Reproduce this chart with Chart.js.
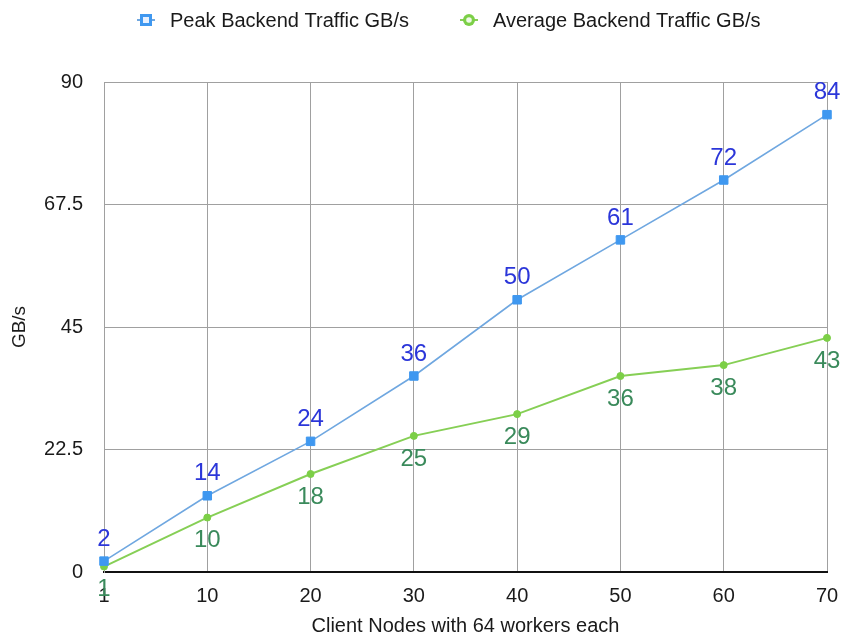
<!DOCTYPE html>
<html>
<head>
<meta charset="utf-8">
<script src="https://cdn.jsdelivr.net/npm/chart.js@4.4.1/dist/chart.umd.min.js"></script>
<style>
  html, body { margin: 0; padding: 0; background: #ffffff; }
  #wrap { width: 841px; height: 639px; position: relative; }
</style>
</head>
<body>
<div id="wrap"><canvas id="chart" width="841" height="639"></canvas></div>
<script>
// Client node counts (64 workers each)
const nodeCounts = ['1', '10', '20', '30', '40', '50', '60', '70'];
// Backend traffic in GB/s
const peakTraffic = [2, 14, 24, 36, 50, 61, 72, 84];
const averageTraffic = [1, 10, 18, 25, 29, 36, 38, 43];
// Value-axis ticks
const yTicks = [0, 22.5, 45, 67.5, 90];

const FONT = '"Liberation Sans", Arial, Helvetica, sans-serif';

const peakStyle = { line: '#6fa7e0', point: '#3f98f0', label: '#2b36d9' };
const avgStyle = { line: '#86cf55', point: '#7ccf47', label: '#3a8a5b' };

// Value labels next to each point: peak above, average below
const valueLabels = {
  id: 'valueLabels',
  afterDatasetsDraw(chart) {
    const ctx = chart.ctx;
    ctx.save();
    ctx.font = '24px ' + FONT;
    ctx.textAlign = 'center';
    ctx.textBaseline = 'middle';
    chart.data.datasets.forEach((ds, i) => {
      const meta = chart.getDatasetMeta(i);
      meta.data.forEach((pt, j) => {
        const above = ds.labelPos === 'above';
        ctx.fillStyle = ds.labelColor;
        ctx.fillText(String(ds.data[j]), pt.x, pt.y + (above ? -22 : 23));
      });
    });
    ctx.restore();
  }
};

// Legend row at the top: line with marker, then the series name
const topLegend = {
  id: 'topLegend',
  afterDraw(chart) {
    const ctx = chart.ctx;
    ctx.save();
    ctx.font = '20px ' + FONT;
    ctx.textBaseline = 'middle';
    ctx.textAlign = 'left';
    const y = 20;
    let x = 146;
    chart.data.datasets.forEach((ds) => {
      // line stub
      ctx.strokeStyle = ds.borderColor;
      ctx.lineWidth = 2;
      ctx.beginPath();
      ctx.moveTo(x - 9, y);
      ctx.lineTo(x + 9, y);
      ctx.stroke();
      // marker
      ctx.fillStyle = ds.pointBackgroundColor;
      if (ds.pointStyle === 'rect') {
        ctx.fillRect(x - 6, y - 6, 12, 12);
        ctx.fillStyle = '#e6f0ff';
        ctx.fillRect(x - 3, y - 3, 6, 6);
      } else {
        ctx.beginPath();
        ctx.arc(x, y, 6, 0, Math.PI * 2);
        ctx.fill();
        ctx.fillStyle = '#eef9e6';
        ctx.beginPath();
        ctx.arc(x, y, 2.8, 0, Math.PI * 2);
        ctx.fill();
      }
      ctx.fillStyle = '#1a1a1a';
      const tx = x + 24;
      ctx.fillText(ds.label, tx, y + 1);
      x = tx + ctx.measureText(ds.label).width + 60;
    });
    ctx.restore();
  }
};

new Chart(document.getElementById('chart'), {
  type: 'line',
  data: {
    labels: nodeCounts,
    datasets: [
      {
        label: 'Peak Backend Traffic GB/s',
        data: peakTraffic,
        borderColor: peakStyle.line,
        backgroundColor: peakStyle.point,
        pointBackgroundColor: peakStyle.point,
        pointBorderColor: peakStyle.point,
        pointBorderWidth: 1,
        pointStyle: 'rect',
        pointRadius: 6,
        borderWidth: 1.6,
        tension: 0,
        labelColor: peakStyle.label,
        labelPos: 'above'
      },
      {
        label: 'Average Backend Traffic GB/s',
        data: averageTraffic,
        borderColor: avgStyle.line,
        backgroundColor: avgStyle.point,
        pointBackgroundColor: avgStyle.point,
        pointBorderColor: avgStyle.point,
        pointBorderWidth: 1,
        pointStyle: 'circle',
        pointRadius: 3.5,
        borderWidth: 2,
        tension: 0,
        labelColor: avgStyle.label,
        labelPos: 'below'
      }
    ]
  },
  options: {
    responsive: false,
    animation: false,
    devicePixelRatio: 1,
    layout: { autoPadding: false, padding: { top: 82, right: 14, bottom: 1, left: 8 } },
    plugins: {
      legend: { display: false },
      tooltip: { enabled: false }
    },
    scales: {
      x: {
        type: 'category',
        offset: false,
        afterFit(scale) {
          scale.height = 66;
          scale.paddingLeft = 0;
          scale.paddingRight = 0;
        },
        grid: { color: '#a0a0a0', lineWidth: 1, drawTicks: false },
        border: { color: '#111111', width: 2 },
        ticks: { color: '#1a1a1a', font: { family: FONT, size: 20 }, padding: 12, maxRotation: 0 },
        title: { display: true, text: 'Client Nodes with 64 workers each', color: '#1a1a1a', font: { family: FONT, size: 20 }, padding: { top: 0, bottom: 0 } }
      },
      y: {
        min: 0,
        max: 90,
        afterBuildTicks(scale) { scale.ticks = yTicks.map(v => ({ value: v })); },
        afterFit(scale) { scale.width = 96; },
        grid: { color: '#a0a0a0', lineWidth: 1, drawTicks: false },
        border: { color: '#a0a0a0', width: 1 },
        ticks: { color: '#1a1a1a', font: { family: FONT, size: 20 }, padding: 21 },
        title: { display: true, text: 'GB/s', color: '#1a1a1a', font: { family: FONT, size: 19 }, padding: { top: 0, bottom: 0 } }
      }
    }
  },
  plugins: [valueLabels, topLegend]
});
</script>
</body>
</html>
